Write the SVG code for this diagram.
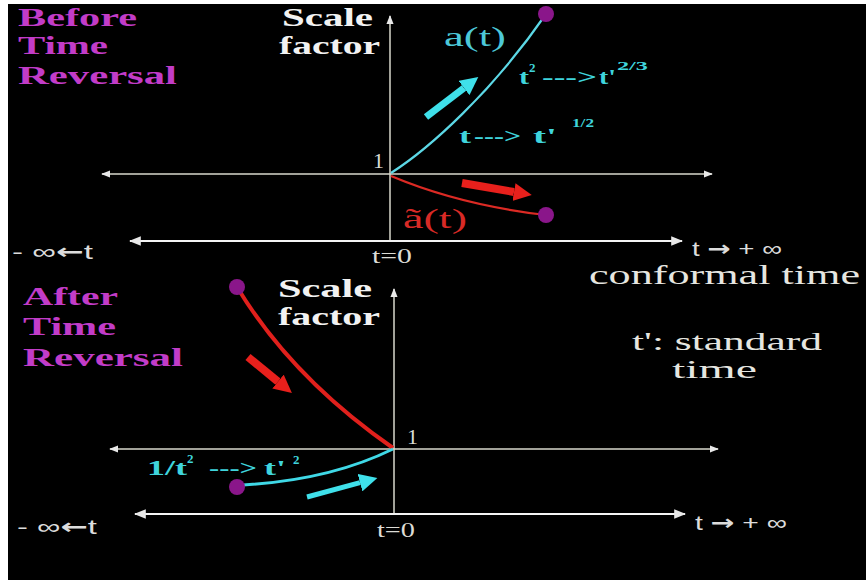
<svg xmlns="http://www.w3.org/2000/svg" width="866" height="580" viewBox="0 0 866 580">
<defs>
<style>
.mag{font-family:"Liberation Serif",serif;font-weight:bold;font-size:25px;fill:#c23cc8}
.sf{font-family:"Liberation Serif",serif;font-weight:bold;font-size:25px;fill:#f2f2f2}
.ser{font-family:"Liberation Serif",serif;font-size:22px;fill:#dcdcd6}
.big{font-family:"Liberation Serif",serif;font-size:28px;fill:#e6e6e0}
.mid{font-family:"Liberation Serif",serif;font-size:25px;fill:#e6e6e0}
.sans{font-family:"Liberation Sans",sans-serif;font-size:21px;fill:#dcdcdc}
.arr{font-family:"DejaVu Sans",sans-serif;font-weight:bold}
.cy{font-family:"Liberation Serif",serif;font-weight:bold;font-size:22px;fill:#3fd4dc}
.cys{font-family:"Liberation Serif",serif;font-weight:bold;font-size:13px;fill:#3fd4dc}
.ax{stroke:#d8d8cc;stroke-width:1.5;fill:none}
.tax{stroke:#f4f4f4;stroke-width:2;fill:none}
.dot{fill:#8a168a}
</style>
<marker id="ah" viewBox="0 0 10 10" refX="9" refY="5" markerWidth="6" markerHeight="6" orient="auto-start-reverse"><path d="M0,1 L10,5 L0,9 z" fill="#e8e8e8"/></marker>
<marker id="hc" viewBox="0 0 10 10" refX="0" refY="5" markerUnits="userSpaceOnUse" markerWidth="18" markerHeight="18" orient="auto"><path d="M0,0 L10,5 L0,10 z" fill="#3fe0ea"/></marker>
<marker id="hr" viewBox="0 0 10 10" refX="0" refY="5" markerUnits="userSpaceOnUse" markerWidth="18" markerHeight="18" orient="auto"><path d="M0,0 L10,5 L0,10 z" fill="#e8201c"/></marker>
</defs>
<rect x="8" y="4" width="858" height="576" fill="#000"/>

<g id="connectors">
<line class="ax" x1="390" y1="240" x2="390" y2="16" marker-end="url(#ah)"/>
<line class="ax" x1="102" y1="174" x2="712" y2="174" marker-start="url(#ah)" marker-end="url(#ah)"/>
<line class="tax" x1="130" y1="241" x2="682" y2="241" marker-start="url(#ah)" marker-end="url(#ah)"/>
<line class="ax" x1="394" y1="514" x2="394" y2="289" marker-end="url(#ah)"/>
<line class="ax" x1="110" y1="449" x2="718" y2="449" marker-start="url(#ah)" marker-end="url(#ah)"/>
<line class="tax" x1="135" y1="514" x2="685" y2="514" marker-start="url(#ah)" marker-end="url(#ah)"/>
</g>

<g id="curve-a-top">
<path d="M391,173 C430,148 492,92 546,14" fill="none" stroke="#5cd8e6" stroke-width="2.2"/>
<circle class="dot" cx="546" cy="14" r="8"/>
<line x1="426" y1="117" x2="464" y2="88" stroke="#3fe0ea" stroke-width="7" marker-end="url(#hc)"/>
</g>
<g id="curve-atilde-top">
<path d="M391,176 Q460,205 546,215" fill="none" stroke="#dc2a24" stroke-width="2.2"/>
<circle class="dot" cx="546" cy="215" r="8"/>
<line x1="462" y1="183" x2="514" y2="192" stroke="#e8201c" stroke-width="8" marker-end="url(#hr)"/>
</g>
<g id="curve-red-bottom">
<path d="M237,287 Q292,378 393,448" fill="none" stroke="#e0201c" stroke-width="4"/>
<circle class="dot" cx="237" cy="287" r="8"/>
<line x1="248" y1="357" x2="278" y2="381.6" stroke="#e8201c" stroke-width="8" marker-end="url(#hr)"/>
</g>
<g id="curve-cyan-bottom">
<path d="M243,485 Q330,480 393,449" fill="none" stroke="#3fd8e6" stroke-width="3"/>
<circle class="dot" cx="237" cy="487" r="8"/>
<line x1="307" y1="497" x2="360" y2="482.7" stroke="#3fe0ea" stroke-width="5" marker-end="url(#hc)"/>
</g>

<g id="label-before">
<text class="mag" x="18" y="26" textLength="119" lengthAdjust="spacingAndGlyphs">Before</text>
<text class="mag" x="18" y="54" textLength="90" lengthAdjust="spacingAndGlyphs">Time</text>
<text class="mag" x="18" y="84" textLength="159" lengthAdjust="spacingAndGlyphs">Reversal</text>
</g>
<g id="label-after">
<text class="mag" x="23" y="305" textLength="95" lengthAdjust="spacingAndGlyphs">After</text>
<text class="mag" x="23" y="335" textLength="93" lengthAdjust="spacingAndGlyphs">Time</text>
<text class="mag" x="23" y="366" textLength="160" lengthAdjust="spacingAndGlyphs">Reversal</text>
</g>
<g id="scale-top">
<text class="sf" x="282" y="26" textLength="91" lengthAdjust="spacingAndGlyphs">Scale</text>
<text class="sf" x="279" y="54" textLength="101" lengthAdjust="spacingAndGlyphs">factor</text>
</g>
<g id="scale-bottom">
<text class="sf" x="278" y="297" textLength="94" lengthAdjust="spacingAndGlyphs">Scale</text>
<text class="sf" x="278" y="325" textLength="102" lengthAdjust="spacingAndGlyphs">factor</text>
</g>

<g id="axis-labels-top">
<text class="ser" x="373" y="168">1</text>
<text class="ser" x="372" y="263" textLength="40" lengthAdjust="spacingAndGlyphs">t=0</text>
<text class="sans" x="12" y="259" textLength="81" lengthAdjust="spacingAndGlyphs">- ∞<tspan class="arr">←</tspan>t</text>
<text class="sans" x="692" y="256" textLength="90" lengthAdjust="spacingAndGlyphs">t <tspan class="arr">→</tspan> + ∞</text>
</g>
<g id="axis-labels-bottom">
<text class="ser" x="407" y="444">1</text>
<text class="ser" x="377" y="537" textLength="38" lengthAdjust="spacingAndGlyphs">t=0</text>
<text class="sans" x="17" y="534" textLength="80" lengthAdjust="spacingAndGlyphs">- ∞<tspan class="arr">←</tspan>t</text>
<text class="sans" x="695" y="530" textLength="92" lengthAdjust="spacingAndGlyphs">t <tspan class="arr">→</tspan> + ∞</text>
</g>

<g id="label-at">
<text x="444" y="46" textLength="62" lengthAdjust="spacingAndGlyphs" style="font-family:'Liberation Serif',serif;font-size:28px;fill:#4cc8d8">a(t)</text>
</g>
<g id="label-atilde">
<text x="403" y="228" textLength="64" lengthAdjust="spacingAndGlyphs" style="font-family:'Liberation Serif',serif;font-size:28px;fill:#d82a26">ã(t)</text>
</g>

<g id="label-t2">
<text class="cy" x="519" y="84" textLength="10" lengthAdjust="spacingAndGlyphs">t</text>
<text class="cys" x="529" y="72">2</text>
<text class="cy" x="542" y="84" textLength="55" lengthAdjust="spacingAndGlyphs">---&gt;</text>
<text class="cy" x="599" y="84" textLength="17" lengthAdjust="spacingAndGlyphs">t'</text>
<text class="cys" x="617" y="70" textLength="31" lengthAdjust="spacingAndGlyphs">2/3</text>
</g>
<g id="label-t1">
<text class="cy" x="459" y="143" textLength="12" lengthAdjust="spacingAndGlyphs">t</text>
<text class="cy" x="474" y="143" textLength="47" lengthAdjust="spacingAndGlyphs">---&gt;</text>
<text class="cy" x="533" y="143" textLength="24" lengthAdjust="spacingAndGlyphs">t'</text>
<text class="cys" x="572" y="127" textLength="22" lengthAdjust="spacingAndGlyphs">1/2</text>
</g>
<g id="label-bottom-cyan">
<text class="cy" x="147" y="475" textLength="40" lengthAdjust="spacingAndGlyphs">1/t</text>
<text class="cys" x="187" y="463">2</text>
<text class="cy" x="209" y="475" textLength="48" lengthAdjust="spacingAndGlyphs">---&gt;</text>
<text class="cy" x="264" y="475" textLength="22" lengthAdjust="spacingAndGlyphs">t'</text>
<text class="cys" x="293" y="464">2</text>
</g>

<g id="label-conformal">
<text class="big" x="589" y="284" textLength="271" lengthAdjust="spacingAndGlyphs">conformal time</text>
</g>
<g id="label-standard">
<text class="mid" x="632" y="350" textLength="190" lengthAdjust="spacingAndGlyphs">t': standard</text>
<text class="mid" x="672" y="378" textLength="85" lengthAdjust="spacingAndGlyphs">time</text>
</g>
</svg>
